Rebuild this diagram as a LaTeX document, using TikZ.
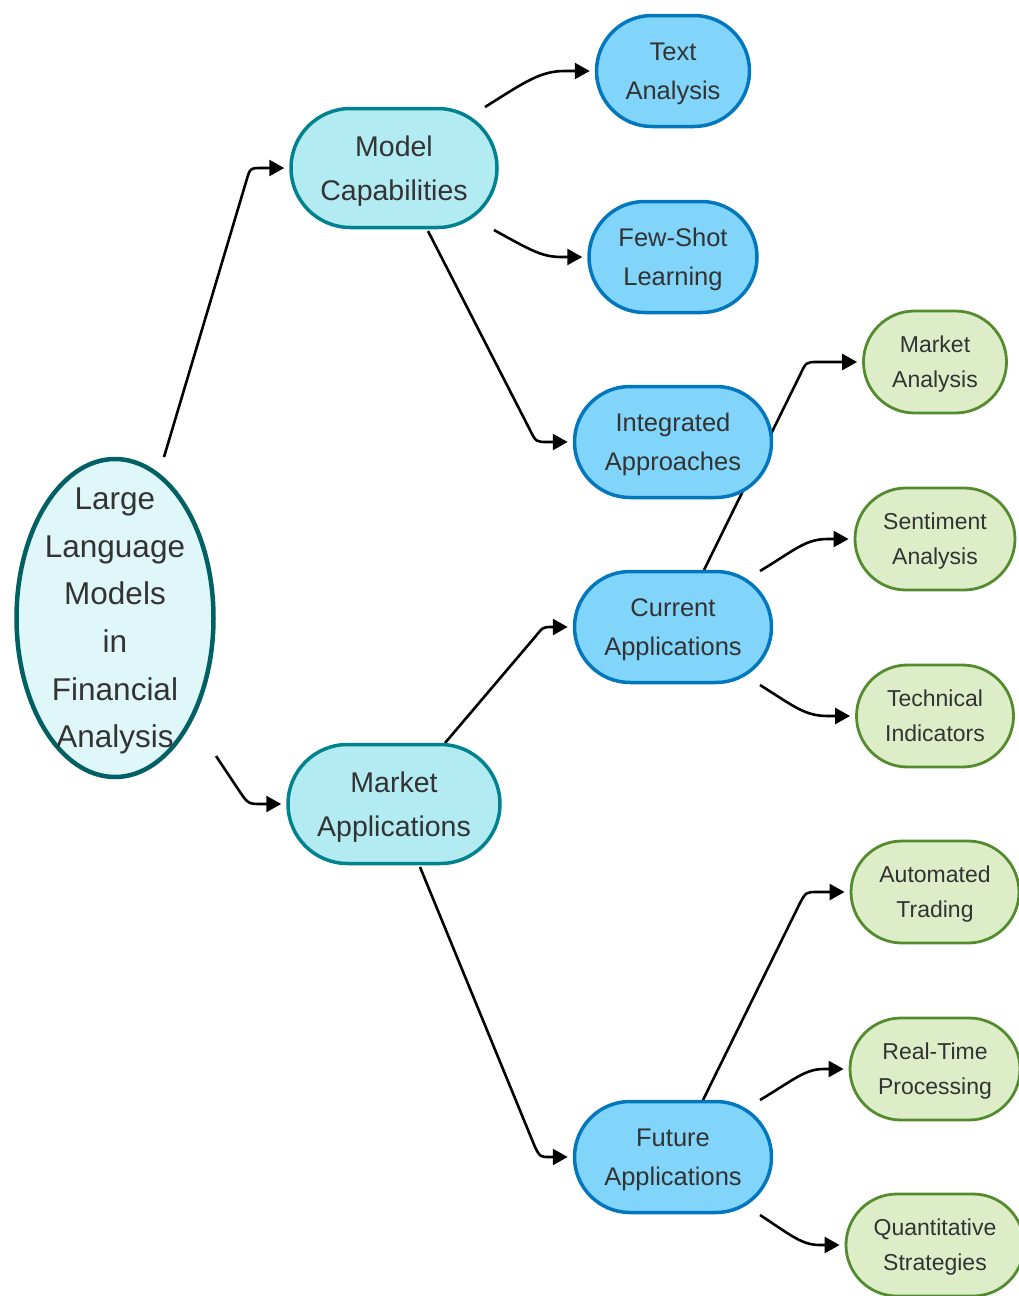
\documentclass[tikz,border=0pt]{standalone}
\usepackage{fontspec}
\setmainfont{Liberation Sans}
\usetikzlibrary{shapes.geometric,shapes.misc,arrows.meta,calc,backgrounds}

\definecolor{ink}{HTML}{333333}
\definecolor{rootfill}{HTML}{E0F7FA}
\definecolor{rootline}{HTML}{006064}
\definecolor{midfill}{HTML}{B2EBF2}
\definecolor{midline}{HTML}{00838F}
\definecolor{bluefill}{HTML}{81D4FA}
\definecolor{blueline}{HTML}{0277BD}
\definecolor{greenfill}{HTML}{DCEDC8}
\definecolor{greenline}{HTML}{558B2F}

% invisible struts that fix the height of the first line and the depth of the last
\newcommand{\hitop}{\rule{0pt}{1.02em}}
\newcommand{\lobot}{\rule[-0.3em]{0pt}{0.3em}}
\newcommand{\twolines}[2]{\hitop#1\\#2\lobot}

\tikzset{
  rootshape/.style={ellipse, draw=rootline, fill=rootfill, line width=4.5pt,
    minimum width=197pt, minimum height=318pt, inner sep=0pt},
  roottext/.style={align=center, text=ink, inner sep=0pt,
    font=\fontsize{31.5}{47.6}\selectfont},
  midnode/.style={rounded rectangle, draw=midline, fill=midfill, line width=3.5pt,
    minimum height=119pt, inner sep=0pt, align=center, text=ink,
    font=\fontsize{28.5}{44}\selectfont},
  bluenode/.style={rounded rectangle, draw=blueline, fill=bluefill, line width=3.5pt,
    minimum height=111pt, inner sep=0pt, align=center, text=ink,
    font=\fontsize{25.5}{39}\selectfont},
  greennode/.style={rounded rectangle, draw=greenline, fill=greenfill, line width=2.8pt,
    minimum height=102pt, inner sep=0pt, align=center, text=ink,
    font=\fontsize{23}{35}\selectfont},
  link/.style={draw=black, line width=2.6pt, line join=round,
    -{Triangle[length=15pt,width=16pt]}}
}

\begin{document}
\begin{tikzpicture}[x=1pt, y=-1pt]
\useasboundingbox (0,0) rectangle (1018,1296);

% root
\node[rootshape] (root) at (115,618) {};
\node[roottext] (rootlabel) at (root.center)
  {\rule{0pt}{0.98em}Large\\Language\\Models\\in\\Financial\\Analysis\rule[-0.3em]{0pt}{0.3em}};

% second level
\node[midnode, minimum width=206pt] (mc) at (394,168) {\twolines{Model}{Capabilities}};
\node[midnode, minimum width=212pt] (ma) at (394,804) {\twolines{Market}{Applications}};

% third level
\node[bluenode, minimum width=153pt] (ta) at (673,71)   {\twolines{Text}{Analysis}};
\node[bluenode, minimum width=168pt] (fs) at (673,257)  {\twolines{Few-Shot}{Learning}};
\node[bluenode, minimum width=197pt] (ia) at (673,442)  {\twolines{Integrated}{Approaches}};
\node[bluenode, minimum width=197pt] (ca) at (673,627)  {\twolines{Current}{Applications}};
\node[bluenode, minimum width=197pt] (fa) at (673,1157) {\twolines{Future}{Applications}};

% leaves
\node[greennode, minimum width=143pt] (mk) at (935,362)  {\twolines{Market}{Analysis}};
\node[greennode, minimum width=160pt] (se) at (935,539)  {\twolines{Sentiment}{Analysis}};
\node[greennode, minimum width=157pt] (te) at (935,716)  {\twolines{Technical}{Indicators}};
\node[greennode, minimum width=168pt] (au) at (935,892)  {\twolines{Automated}{Trading}};
\node[greennode, minimum width=170pt] (rt) at (935,1069) {\twolines{Real-Time}{Processing}};
\node[greennode, minimum width=178pt] (qs) at (935,1245) {\twolines{Quantitative}{Strategies}};

% connectors, kept behind the nodes
\begin{scope}[on background layer]
\draw[link] ($(root.center)+(49,-161)$) -- (246,182) .. controls (250,168) .. (262,168) -- ($(mc.west)+(-5,0)$);
\draw[link] ($(root.center)+(101,138)$) -- (238,789) .. controls (248,804) .. (262,804) -- ($(ma.west)+(-5,0)$);

\draw[link] ($(mc.center)+(91,-61)$) .. controls (525,82) and (540,71) .. (565,71) -- ($(ta.west)+(-5,0)$);
\draw[link] ($(mc.center)+(100,62)$) .. controls (532,251) and (542,257) .. (562,257) -- ($(fs.west)+(-5,0)$);
\draw[link] ($(mc.center)+(34,63)$) -- (530,430) .. controls (536,442) .. (548,442) -- ($(ia.west)+(-5,0)$);

\draw[link] ($(ma.center)+(51,-61)$) -- (535,637) .. controls (543,627) .. (552,627) -- ($(ca.west)+(-5,0)$);
\draw[link] ($(ma.center)+(26,63)$) -- (535,1147) .. controls (540,1157) .. (550,1157) -- ($(fa.west)+(-5,0)$);

\draw[link] ($(ca.center)+(31,-57)$) -- (800,375) .. controls (806,362) .. (818,362) -- ($(mk.west)+(-5,0)$);
\draw[link] ($(ca.center)+(87,-56)$) .. controls (795,550) and (805,539) .. (828,539) -- ($(se.west)+(-5,0)$);
\draw[link] ($(ca.center)+(87,58)$) .. controls (795,707) and (805,716) .. (828,716) -- ($(te.west)+(-5,0)$);

\draw[link] ($(fa.center)+(30,-57)$) -- (800,903) .. controls (806,892) .. (818,892) -- ($(au.west)+(-5,0)$);
\draw[link] ($(fa.center)+(87,-57)$) .. controls (795,1079) and (805,1069) .. (824,1069) -- ($(rt.west)+(-5,0)$);
\draw[link] ($(fa.center)+(87,58)$) .. controls (792,1236) and (802,1245) .. (820,1245) -- ($(qs.west)+(-5,0)$);
\end{scope}
\end{tikzpicture}
\end{document}
